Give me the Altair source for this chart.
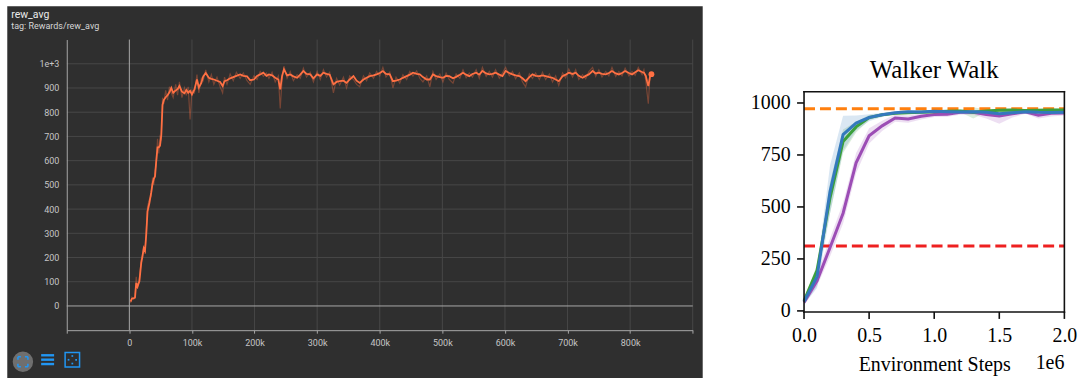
import altair as alt
import pandas as pd

# ---------------- TensorBoard scalar: Rewards/rew_avg ----------------
steps_k = [
    2, 4, 7, 9, 11, 13, 16, 19, 21, 23,
    25, 27, 29, 32, 35, 37, 39, 41, 43, 45,
    47, 49, 51, 53, 55, 58, 61, 64, 67, 70,
    74, 77, 80, 84, 88, 91, 94, 97, 100, 104,
    108, 111, 115, 118, 122, 127, 131, 135, 140, 145,
    149, 152, 156, 161, 166, 171, 177, 182, 188, 193,
    199, 204, 209, 214, 219, 223, 228, 233, 238, 241,
    244, 247, 252, 257, 262, 268, 273, 278, 283, 289,
    294, 300, 305, 310, 315, 320, 326, 331, 336, 342,
    347, 352, 358, 363, 368, 374, 379, 384, 390, 395,
    400, 405, 410, 416, 421, 426, 432, 437, 443, 448,
    453, 459, 464, 469, 475, 480, 485, 490, 496, 501,
    506, 511, 517, 522, 528, 533, 538, 543, 548, 554,
    559, 564, 570, 575, 580, 585, 591, 596, 601, 607,
    612, 617, 623, 628, 633, 639, 644, 649, 655, 660,
    665, 671, 676, 681, 686, 692, 697, 702, 708, 713,
    718, 724, 729, 734, 740, 745, 750, 755, 761, 766,
    771, 777, 782, 787, 792, 798, 803, 808, 813, 819,
    822, 825, 827, 829, 832, 834,
]
rew_smoothed = [
    18, 30, 32, 34, 95, 80, 102, 178, 205, 238,
    228, 295, 390, 425, 470, 505, 525, 535, 600, 655,
    655, 662, 705, 830, 850, 862, 870, 882, 900, 880,
    890, 895, 908, 885, 878, 892, 880, 888, 873, 894,
    935, 902, 921, 948, 962, 942, 938, 935, 930, 925,
    908, 928, 932, 940, 945, 950, 956, 950, 948, 932,
    935, 950, 956, 963, 950, 956, 952, 942, 935, 894,
    950, 977, 952, 956, 948, 942, 955, 970, 958, 956,
    940, 956, 950, 963, 958, 955, 915, 925, 928, 930,
    921, 935, 949, 930, 921, 935, 942, 949, 952, 956,
    962, 970, 958, 956, 928, 930, 935, 942, 949, 955,
    963, 958, 956, 945, 935, 935, 956, 949, 945, 942,
    950, 949, 940, 946, 955, 963, 955, 949, 958, 963,
    955, 970, 960, 956, 958, 963, 955, 949, 970, 962,
    956, 952, 949, 940, 928, 945, 956, 950, 949, 952,
    949, 945, 942, 935, 928, 949, 955, 963, 958, 963,
    950, 942, 950, 956, 970, 960, 963, 958, 956, 962,
    970, 960, 956, 962, 970, 962, 956, 965, 973, 966,
    963, 950, 928, 908, 950, 957,
]
rew_raw = [
    12, 36, 28, 40, 120, 70, 110, 190, 215, 250,
    215, 310, 410, 440, 455, 530, 500, 560, 580, 690,
    630, 700, 690, 860, 835, 890, 850, 905, 880, 860,
    915, 870, 925, 860, 900, 870, 905, 770, 890, 880,
    955, 880, 940, 930, 975, 925, 955, 915, 945, 905,
    880, 945, 915, 958, 930, 965, 940, 962, 930, 915,
    950, 935, 968, 948, 962, 940, 965, 925, 950, 815,
    935, 990, 940, 968, 930, 955, 940, 982, 945, 965,
    925, 968, 935, 975, 945, 965, 880, 940, 912, 945,
    900, 950, 935, 915, 905, 950, 930, 962, 940, 968,
    950, 985, 945, 965, 900, 945, 920, 955, 935, 968,
    950, 970, 940, 925, 950, 905, 968, 935, 958, 925,
    962, 935, 920, 958, 940, 975, 942, 962, 945, 975,
    940, 985, 948, 968, 945, 975, 940, 962, 985, 950,
    968, 938, 962, 925, 905, 958, 940, 962, 935, 965,
    935, 958, 925, 950, 910, 962, 942, 978, 945, 975,
    935, 955, 938, 968, 985, 948, 975, 945, 968, 950,
    985, 948, 968, 950, 982, 950, 968, 952, 985, 955,
    975, 930, 880, 835, 960, 952,
]
rew_x_ticks = [-100000, 0, 100000, 200000, 300000, 400000, 500000,
               600000, 700000, 800000, 900000]
rew_y_ticks = [0, 100, 200, 300, 400, 500, 600, 700, 800, 900, 1000]

# ---------------- Walker Walk learning curves (steps in 1e6) ----------------
env_steps_m = [0.0, 0.1, 0.2, 0.3, 0.4, 0.5, 0.6, 0.7, 0.8, 0.9, 1.0,
               1.1, 1.2, 1.3, 1.4, 1.5, 1.6, 1.7, 1.8, 1.9, 2.0]
green_mean = [48, 195, 545, 815, 885, 930, 943, 950, 953, 955, 958,
              960, 962, 955, 962, 965, 966, 964, 965, 966, 966]
green_lo = [36, 170, 470, 760, 858, 918, 936, 944, 947, 949, 952,
            954, 956, 925, 955, 958, 959, 957, 958, 959, 959]
green_hi = [60, 222, 620, 872, 910, 942, 950, 956, 959, 961, 964,
            966, 968, 980, 969, 972, 973, 971, 972, 973, 973]
purple_mean = [40, 145, 305, 470, 712, 842, 890, 928, 923, 936, 945,
               946, 955, 955, 945, 937, 948, 958, 941, 950, 952]
purple_lo = [30, 118, 262, 420, 662, 805, 865, 910, 905, 920, 932,
             934, 944, 944, 925, 900, 930, 948, 925, 935, 940]
purple_hi = [50, 175, 350, 520, 760, 878, 915, 945, 940, 950, 957,
             958, 965, 965, 962, 960, 962, 968, 955, 962, 963]
blue_mean = [45, 165, 575, 848, 903, 930, 943, 953, 958, 957, 960,
             958, 957, 958, 955, 948, 953, 958, 955, 954, 955]
blue_lo = [30, 110, 470, 770, 868, 912, 932, 946, 950, 950, 952,
           950, 949, 950, 946, 938, 945, 950, 947, 946, 947]
blue_hi = [62, 205, 700, 938, 940, 946, 953, 960, 965, 964, 967,
           965, 964, 966, 963, 958, 961, 966, 963, 962, 963]
walker_y_ticks = [0, 250, 500, 750, 1000]
walker_x_ticks = [0.0, 0.5, 1.0, 1.5, 2.0]
walker_x_lim = [0.0, 2.0]
walker_y_lim = [-5, 1054]
expert_return = 972
baseline_return = 312

# =====================================================================
# Left panel: dark TensorBoard card
# =====================================================================
LW, LH = 628.3, 291.7
BG_DARK = "#2f2f2f"
GRID = "#474747"
AXIS_LINE = "#a8a8a8"
TB_ORANGE = "#ff7043"
TB_BLUE = "#2196f3"

one = pd.DataFrame({"k": [0]})
rew_df = pd.DataFrame({
    "step": [k * 1000 for k in steps_k],
    "smoothed": rew_smoothed,
    "raw": rew_raw,
})
last_df = pd.DataFrame({"step": [steps_k[-1] * 1000], "smoothed": [rew_smoothed[-1]]})

xs = alt.Scale(domain=[rew_x_ticks[0], rew_x_ticks[-1]], nice=False, zero=False)
ys = alt.Scale(domain=[-100, 1100], nice=False, zero=False)

tb_label = dict(labelFont="Roboto", labelFontSize=9, labelColor="#c6c6c6",
                domainColor=AXIS_LINE, domainWidth=1, zindex=1, grid=False, title=None)
tb_xaxis = alt.Axis(
    values=rew_x_ticks,
    labelExpr="datum.value < 0 || datum.value > 850000 ? '' : "
              "(datum.value == 0 ? '0' : format(datum.value / 1000, 'd') + 'k')",
    ticks=True, tickSize=3, tickColor=AXIS_LINE, labelPadding=5,
    labelFlush=False, labelOverlap=False, **tb_label)
tb_yaxis = alt.Axis(
    values=rew_y_ticks,
    labelExpr="datum.value == 1000 ? '1e+3' : datum.label",
    ticks=False, tickSize=0, labelPadding=8, labelOverlap=False, **tb_label)


def tb_x(field):
    return alt.X(field, type="quantitative", scale=xs, axis=tb_xaxis)


def tb_y(field):
    return alt.Y(field, type="quantitative", scale=ys, axis=tb_yaxis)


card = alt.Chart(one).mark_rect(color=BG_DARK).encode(
    x=alt.value(-59.7), x2=alt.value(638.3), y=alt.value(-33.3), y2=alt.value(339.7)
)
vgrid = alt.Chart(pd.DataFrame({"g": rew_x_ticks[2:]})).mark_rule(
    color=GRID, strokeWidth=1
).encode(x=tb_x("g"))
hgrid = alt.Chart(pd.DataFrame({"g": rew_y_ticks[1:]})).mark_rule(
    color=GRID, strokeWidth=1
).encode(y=tb_y("g"))
zero_v = alt.Chart(pd.DataFrame({"g": [0]})).mark_rule(
    color=AXIS_LINE, strokeWidth=1
).encode(x=tb_x("g"))
zero_h = alt.Chart(pd.DataFrame({"g": [0]})).mark_rule(
    color=AXIS_LINE, strokeWidth=1
).encode(y=tb_y("g"))

raw_line = alt.Chart(rew_df).mark_line(
    color=TB_ORANGE, opacity=0.35, strokeWidth=1.2
).encode(x=tb_x("step"), y=tb_y("raw"))
smooth_line = alt.Chart(rew_df).mark_line(
    color=TB_ORANGE, strokeWidth=1.8
).encode(x=tb_x("step"), y=tb_y("smoothed"))
end_dot = alt.Chart(last_df).mark_circle(color=TB_ORANGE, size=34, opacity=1).encode(
    x=tb_x("step"), y=tb_y("smoothed")
)

card_title = alt.Chart(one).mark_text(
    text="rew_avg", align="left", baseline="alphabetic",
    font="Roboto", fontSize=10.5, color="#ececec"
).encode(x=alt.value(-55.7), y=alt.value(-21.6))
card_tag = alt.Chart(one).mark_text(
    text="tag: Rewards/rew_avg", align="left", baseline="alphabetic",
    font="Roboto", fontSize=9, color="#d6d6d6"
).encode(x=alt.value(-55.7), y=alt.value(-10.6))

# toolbar buttons under the card
btn_circle = alt.Chart(one).mark_point(
    shape="circle", filled=True, size=420, color="#6f6f6f", opacity=1
).encode(x=alt.value(-44), y=alt.value(323.4))
btn_expand = alt.Chart(one).mark_point(
    shape="square", filled=False, size=100, color=TB_BLUE, strokeWidth=1.6,
    strokeDash=[3, 4, 3, 0], opacity=1
).encode(x=alt.value(-44), y=alt.value(323.4))
btn_list = [
    alt.Chart(one).mark_rule(color=TB_BLUE, strokeWidth=2.4).encode(
        x=alt.value(-25.7), x2=alt.value(-12.7), y=alt.value(yy)
    )
    for yy in (316.9, 321.3, 325.7)
]
btn_frame = alt.Chart(one).mark_point(
    shape="square", filled=False, size=210, color=TB_BLUE, strokeWidth=1.5, opacity=1
).encode(x=alt.value(5.6), y=alt.value(321.4))
btn_dots = [
    alt.Chart(one).mark_point(shape="square", filled=True, size=3, color=TB_BLUE, opacity=1)
    .encode(x=alt.value(px), y=alt.value(py))
    for px, py in ((5.6, 317.6), (5.6, 325.2), (1.8, 321.4), (9.4, 321.4))
]

left = alt.layer(
    card, hgrid, vgrid, zero_h, zero_v, raw_line, smooth_line, end_dot,
    card_title, card_tag, btn_circle, btn_expand, *btn_list, btn_frame, *btn_dots
).properties(width=LW, height=LH)

# =====================================================================
# Right panel: Walker Walk
# The view shares the left card's height; the axes box is drawn from
# walker_x_lim / walker_y_lim and the y scale is stretched so that the
# box sits lower in the view.
# =====================================================================
RW, RH = 261.3, LH
FRAME_TOP, FRAME_BOTTOM = 52.4, 273.4          # px inside the view
PX_PER_UNIT = (FRAME_BOTTOM - FRAME_TOP) / (walker_y_lim[1] - walker_y_lim[0])
view_y_domain = [
    walker_y_lim[0] - (RH - FRAME_BOTTOM) / PX_PER_UNIT,
    walker_y_lim[1] + FRAME_TOP / PX_PER_UNIT,
]
TICK_LEN = 7
HALF_W = 0.8

SERIF = "Liberation Serif"
INK = "#111111"
C_GREEN = "#3ba03b"
C_PURPLE = "#9c4db5"
C_BLUE = "#3479bd"
C_ORANGE = "#ff7f0e"
C_RED = "#ee2020"

wx = alt.Scale(domain=walker_x_lim, nice=False, zero=False)
wy = alt.Scale(domain=view_y_domain, nice=False, zero=False)

# axes carry only the tick labels; ticks and box are drawn as thin rects
w_xaxis = alt.Axis(
    values=walker_x_ticks, format=".1f", title="Environment Steps",
    offset=FRAME_BOTTOM - RH,
    titleFont=SERIF, titleFontSize=20, titleFontWeight="normal", titleColor="black",
    titleX=RW / 2, titleY=58.5, titleBaseline="alphabetic", titleAlign="center",
    labelFont=SERIF, labelFontSize=20, labelColor="black", labelPadding=2 * TICK_LEN,
    labelFlush=False, labelOverlap=False,
    ticks=False, tickSize=0, domain=False, grid=False, zindex=1,
)
w_yaxis = alt.Axis(
    values=walker_y_ticks, format="d", title=None,
    labelFont=SERIF, labelFontSize=20, labelColor="black", labelPadding=2 * TICK_LEN,
    labelOverlap=False,
    ticks=False, tickSize=0, domain=False, grid=False, zindex=1,
)


def w_x(field):
    return alt.X(field, type="quantitative", scale=wx, axis=w_xaxis)


def w_y(field):
    return alt.Y(field, type="quantitative", scale=wy, axis=w_yaxis)


def series_df(mean, lo, hi):
    return pd.DataFrame({"step": env_steps_m, "mean": mean, "lo": lo, "hi": hi})


green_df = series_df(green_mean, green_lo, green_hi)
purple_df = series_df(purple_mean, purple_lo, purple_hi)
blue_df = series_df(blue_mean, blue_lo, blue_hi)

# invisible box that reserves the panel's margins
bounds_box = alt.Chart(one).mark_rect(opacity=0).encode(
    x=alt.value(-99.7), x2=alt.value(281.3), y=alt.value(-33.3), y2=alt.value(339.7)
)


def band(df, color):
    return alt.Chart(df).mark_area(color=color, opacity=0.18).encode(
        x=w_x("step"), y=w_y("lo"), y2="hi:Q"
    )


def curve(df, color):
    return alt.Chart(df).mark_line(color=color, strokeWidth=3).encode(
        x=w_x("step"), y=w_y("mean")
    )


def ref_line(value, color):
    df = pd.DataFrame({"y": [value], "x0": [walker_x_lim[0]], "x1": [walker_x_lim[1]]})
    return alt.Chart(df).mark_rule(color=color, strokeWidth=3, strokeDash=[11, 5]).encode(
        y=w_y("y"), x=w_x("x0"), x2="x1:Q"
    )


expert_rule = ref_line(expert_return, C_ORANGE)
baseline_rule = ref_line(baseline_return, C_RED)

# axes box: four thin filled bars along the axis limits
spine_df = pd.DataFrame({
    "sx": [walker_x_lim[0], walker_x_lim[1], walker_x_lim[0], walker_x_lim[0]],
    "sx2": [walker_x_lim[0], walker_x_lim[1], walker_x_lim[1], walker_x_lim[1]],
    "sy": [walker_y_lim[0], walker_y_lim[0], walker_y_lim[0], walker_y_lim[1]],
    "sy2": [walker_y_lim[1], walker_y_lim[1], walker_y_lim[0], walker_y_lim[1]],
})
spines = alt.Chart(spine_df).mark_rect(
    color=INK, opacity=1,
    xOffset=-HALF_W, x2Offset=HALF_W, yOffset=HALF_W, y2Offset=-HALF_W,
).encode(x=w_x("sx"), x2="sx2:Q", y=w_y("sy"), y2="sy2:Q")

# outward tick marks
xtick_df = pd.DataFrame({"t": walker_x_ticks, "base": [walker_y_lim[0]] * len(walker_x_ticks)})
xticks = alt.Chart(xtick_df).mark_rect(
    color=INK, opacity=1,
    xOffset=-HALF_W, x2Offset=HALF_W, yOffset=TICK_LEN, y2Offset=0,
).encode(x=w_x("t"), x2="t:Q", y=w_y("base"), y2="base:Q")
ytick_df = pd.DataFrame({"t": walker_y_ticks, "base": [walker_x_lim[0]] * len(walker_y_ticks)})
yticks = alt.Chart(ytick_df).mark_rect(
    color=INK, opacity=1,
    xOffset=-TICK_LEN, x2Offset=0, yOffset=HALF_W, y2Offset=-HALF_W,
).encode(x=w_x("base"), x2="base:Q", y=w_y("t"), y2="t:Q")

walker_title = alt.Chart(one).mark_text(
    text="Walker Walk", align="center", baseline="alphabetic",
    font=SERIF, fontSize=25, color="black"
).encode(x=alt.value(RW / 2), y=alt.value(FRAME_TOP - 13.5))
scale_note = alt.Chart(one).mark_text(
    text="1e6", align="right", baseline="alphabetic",
    font=SERIF, fontSize=20, color="black"
).encode(x=alt.value(RW), y=alt.value(FRAME_BOTTOM + 57.5))

right = alt.layer(
    bounds_box,
    band(green_df, C_GREEN), band(purple_df, C_PURPLE), band(blue_df, C_BLUE),
    expert_rule, baseline_rule,
    curve(purple_df, C_PURPLE), curve(green_df, C_GREEN), curve(blue_df, C_BLUE),
    spines, xticks, yticks, walker_title, scale_note,
).properties(width=RW, height=RH)

chart = alt.hconcat(left, right, spacing=0).properties(
    padding={"left": 6, "top": 5, "right": 0, "bottom": 0},
    background="white",
).configure_view(stroke="transparent")

chart.save("out.html", embed_options={"renderer": "svg", "actions": False})
